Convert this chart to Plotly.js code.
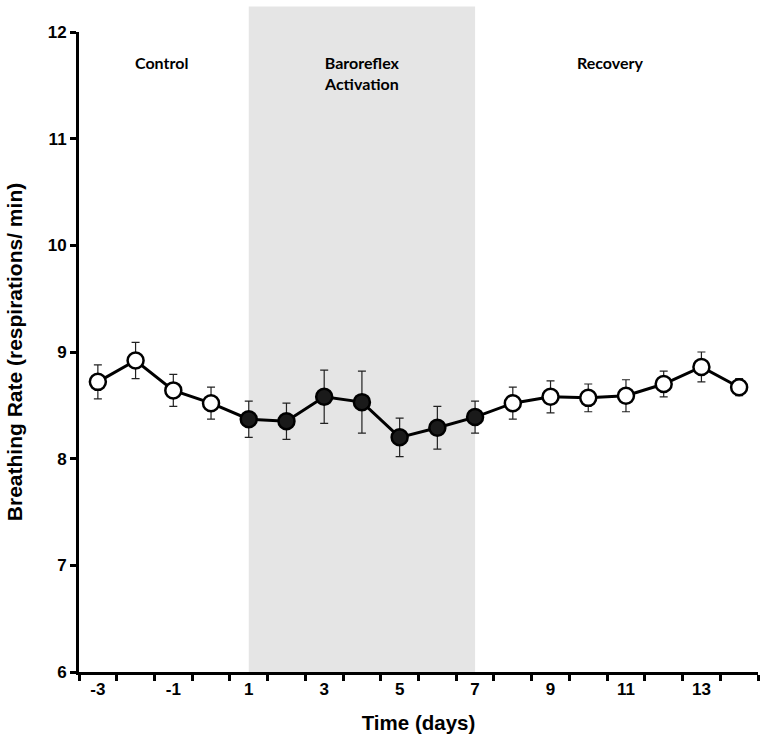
<!DOCTYPE html>
<html>
<head>
<meta charset="utf-8">
<script src="https://cdn.plot.ly/plotly-3.0.1.min.js"></script>
<style>html,body{margin:0;padding:0;background:#fff;}#chart{width:762px;height:750px;}</style>
</head>
<body>
<div id="chart"></div>
<script>
const days = [-3,-2,-1,0,1,2,3,4,5,6,7,8,9,10,11,12,13,14];
const rate = [8.72,8.92,8.64,8.52,8.37,8.35,8.58,8.53,8.20,8.29,8.39,8.52,8.58,8.57,8.59,8.70,8.86,8.67];
const sem  = [0.16,0.17,0.15,0.15,0.17,0.17,0.25,0.29,0.18,0.20,0.15,0.15,0.15,0.13,0.15,0.12,0.14,0.08];
const phase = ['c','c','c','c','b','b','b','b','b','b','b','r','r','r','r','r','r','r'];
const tickDays = [-3,-1,1,3,5,7,9,11,13];
const periodLabels = ['Control','Baroreflex<br>Activation','Recovery'];
const periodX = [-1.3, 4, 10.6];
const periodY = [11.71, 11.62, 11.71];
const activationStart = 1, activationEnd = 7;

const fills = phase.map(p => p === 'b' ? '#1a1a1a' : '#ffffff');

const trace = {
  x: days, y: rate, type: 'scatter', mode: 'lines+markers',
  line: {color: '#000', width: 3},
  marker: {size: 16, color: fills, line: {color: '#000', width: 2.5}},
  error_y: {type: 'data', array: sem, visible: true, color: '#222', thickness: 1.2, width: 4},
  hoverinfo: 'x+y'
};

const layout = {
  width: 762, height: 750,
  margin: {l: 79, r: 4, t: 32, b: 78},
  paper_bgcolor: '#fff', plot_bgcolor: 'rgba(0,0,0,0)',
  showlegend: false,
  font: {family: 'Liberation Sans, Arial, sans-serif', color: '#000'},
  xaxis: {
    range: [-3.5, 14.5], tickmode: 'array', tickvals: tickDays, ticktext: tickDays.map(String),
    ticks: '', showgrid: false, zeroline: false,
    showline: true, linecolor: '#000', linewidth: 3,
    tickfont: {size: 17, family: 'Liberation Sans, Arial, sans-serif', weight: 'bold'},
    minor: {ticks: 'outside', tick0: -3.5, dtick: 1, ticklen: 6, tickwidth: 3, tickcolor: '#000', showgrid: false},
    title: {text: 'Time (days)', font: {size: 20.5, weight: 'bold'}, standoff: 18}
  },
  yaxis: {
    range: [6, 12], dtick: 1, tick0: 6,
    ticks: 'outside', ticklen: 6, tickwidth: 3, tickcolor: '#000',
    showgrid: false, zeroline: false,
    showline: true, linecolor: '#000', linewidth: 3,
    tickfont: {size: 17, family: 'Liberation Sans, Arial, sans-serif', weight: 'bold'},
    title: {text: 'Breathing Rate (respirations/ min)', font: {size: 21, weight: 'bold'}, standoff: 20}
  },
  shapes: [{
    type: 'rect', xref: 'x', yref: 'paper',
    x0: activationStart, x1: activationEnd, y0: 0, y1: 1.04,
    fillcolor: '#e5e5e5', line: {width: 0}, layer: 'below'
  }],
  annotations: periodLabels.map((t, i) => ({
    text: t, x: periodX[i], y: periodY[i], xref: 'x', yref: 'y',
    showarrow: false, align: 'center',
    font: {family: 'Lato, sans-serif', size: 16, weight: 'bold', color: '#000'}
  }))
};

Plotly.newPlot('chart', [trace], layout, {displayModeBar: false, staticPlot: true});
</script>
</body>
</html>
